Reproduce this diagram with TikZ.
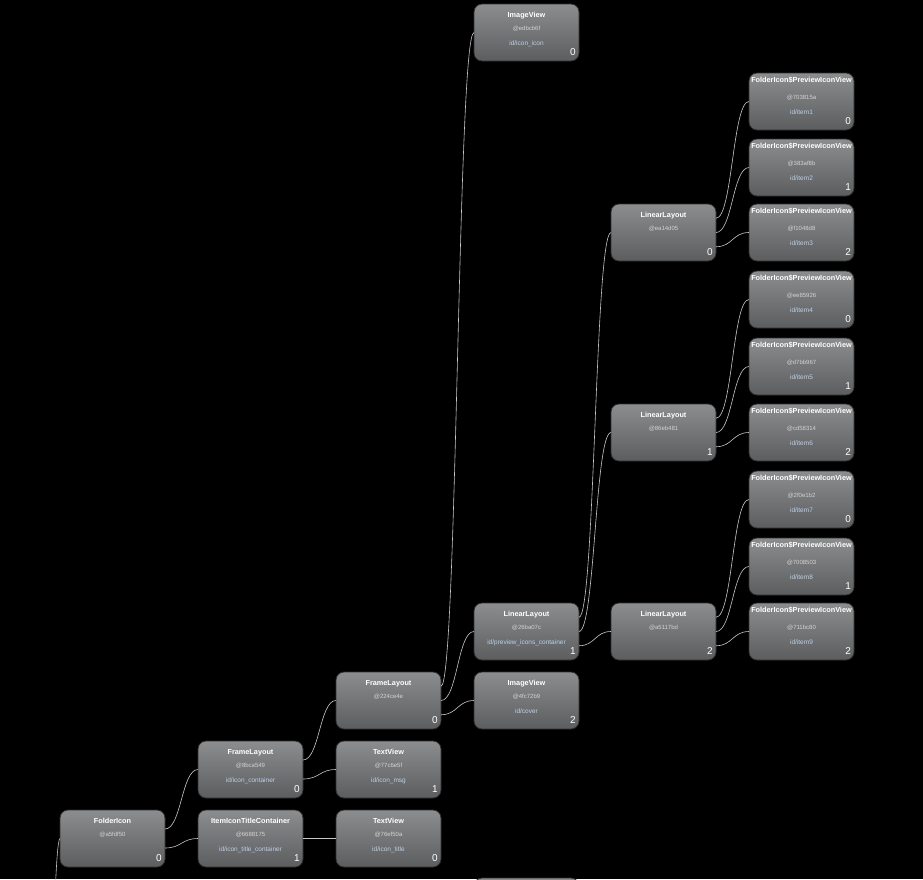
\documentclass[tikz,border=0pt]{standalone}
\usepackage{fontspec}
\setmainfont{Liberation Sans}
\usetikzlibrary{calc}
\definecolor{ntop}{HTML}{8C8D8F}
\definecolor{nbot}{HTML}{5C5D5F}
\definecolor{nborder}{HTML}{2E2E2E}
\definecolor{hashc}{HTML}{D4D4D4}
\definecolor{idc}{HTML}{BCD2EA}
\definecolor{connc}{HTML}{C8C8C8}
\tikzset{
  hvbox/.style={rectangle, rounded corners=8pt, minimum width=105pt, minimum height=57pt,
    anchor=north west, top color=ntop, bottom color=nbot, draw=nborder, line width=0.8pt,
    inner sep=0pt, outer sep=0pt},
  titletxt/.style={font=\bfseries\fontsize{7.3}{8}\selectfont, text=white, inner sep=0pt, anchor=base},
  hashtxt/.style={font=\fontsize{6}{7}\selectfont, text=hashc, inner sep=0pt, anchor=base},
  idtxt/.style={font=\fontsize{6.5}{7}\selectfont, text=idc, inner sep=0pt, anchor=base},
  idxtxt/.style={font=\fontsize{10}{11}\selectfont, text=white, inner sep=0pt, anchor=base east},
  conn/.style={draw=connc, line width=0.6pt}
}
% name, x, y, title, hash, id, index, title offset
\newcommand{\hvnode}[8]{%
  \node[hvbox] (#1) at (#2,#3) {};
  \node[titletxt] (#1-t) at ($(#1.north)+(0,#8)$) {#4};
  \node[hashtxt] (#1-h) at ($(#1.north)+(0,26.5)$) {#5};
  \node[idtxt] (#1-i) at ($(#1.north)+(0,41.5)$) {#6};
  \node[idxtxt] (#1-n) at ($(#1.south east)+(-3,-5.5)$) {#7};
}
% parent, number of children, index, child
\newcommand{\hvconn}[4]{%
  \draw[conn] let \p1=($(#1.north east)+(0,{57*(#3+1)/(#2+1)})$), \p2=(#4.west) in
    (\p1) .. controls ({(\x1+\x2)/2},\y1) and ({(\x1+\x2)/2},\y2) .. (\p2);
}
\begin{document}
\begin{tikzpicture}[x=1pt,y=-1pt]
\useasboundingbox (0,0) rectangle (923,879);
\fill[black] (0,0) rectangle (923,879);

\hvnode{fi}{60}{810}{FolderIcon}{@a5fdf50}{}{0}{13}
\hvnode{fla}{198}{741}{FrameLayout}{@8bca549}{id/icon\_container}{0}{13}
\hvnode{iitc}{198}{810}{ItemIconTitleContainer}{@6688175}{id/icon\_title\_container}{1}{13}
\hvnode{flb}{336}{672}{FrameLayout}{@224ce4e}{}{0}{13}
\hvnode{tva}{336}{741}{TextView}{@77c6e5f}{id/icon\_msg}{1}{13}
\hvnode{tvb}{336}{810}{TextView}{@76ef50a}{id/icon\_title}{0}{13}
\hvnode{iva}{474}{4}{ImageView}{@edbcb6f}{id/icon\_icon}{0}{13}
\hvnode{llo}{474}{603}{LinearLayout}{@26ba07c}{id/preview\_icons\_container}{1}{13}
\hvnode{ivb}{474}{672}{ImageView}{@4fc72b9}{id/cover}{2}{13}
\hvnode{lla}{611}{204}{LinearLayout}{@ea14d05}{}{0}{13}
\hvnode{llb}{611}{404}{LinearLayout}{@86eb481}{}{1}{13}
\hvnode{llc}{611}{603}{LinearLayout}{@a5117bd}{}{2}{13}
\hvnode{pa}{749}{73}{FolderIcon\$PreviewIconView}{@703815a}{id/item1}{0}{9}
\hvnode{pb}{749}{139}{FolderIcon\$PreviewIconView}{@383af8b}{id/item2}{1}{9}
\hvnode{pc}{749}{204}{FolderIcon\$PreviewIconView}{@f1048d8}{id/item3}{2}{9}
\hvnode{pd}{749}{271}{FolderIcon\$PreviewIconView}{@ee85926}{id/item4}{0}{9}
\hvnode{pe}{749}{338}{FolderIcon\$PreviewIconView}{@d7bb967}{id/item5}{1}{9}
\hvnode{pf}{749}{404}{FolderIcon\$PreviewIconView}{@cd58314}{id/item6}{2}{9}
\hvnode{pg}{749}{471}{FolderIcon\$PreviewIconView}{@2f0e1b2}{id/item7}{0}{9}
\hvnode{ph}{749}{538}{FolderIcon\$PreviewIconView}{@7008503}{id/item8}{1}{9}
\hvnode{pi}{749}{603}{FolderIcon\$PreviewIconView}{@711bc80}{id/item9}{2}{9}
\node[hvbox] (cut) at (474,878) {};

\hvconn{fi}{2}{0}{fla}
\hvconn{fi}{2}{1}{iitc}
\hvconn{fla}{2}{0}{flb}
\hvconn{fla}{2}{1}{tva}
\hvconn{iitc}{1}{0}{tvb}
\hvconn{flb}{3}{0}{iva}
\hvconn{flb}{3}{1}{llo}
\hvconn{flb}{3}{2}{ivb}
\hvconn{llo}{3}{0}{lla}
\hvconn{llo}{3}{1}{llb}
\hvconn{llo}{3}{2}{llc}
\hvconn{lla}{3}{0}{pa}
\hvconn{lla}{3}{1}{pb}
\hvconn{lla}{3}{2}{pc}
\hvconn{llb}{3}{0}{pd}
\hvconn{llb}{3}{1}{pe}
\hvconn{llb}{3}{2}{pf}
\hvconn{llc}{3}{0}{pg}
\hvconn{llc}{3}{1}{ph}
\hvconn{llc}{3}{2}{pi}
\coordinate (fiparent) at (27,2500);
\draw[conn] (fiparent) .. controls (43.5,2500) and (43.5,838.5) .. (fi.west);
\end{tikzpicture}
\end{document}
